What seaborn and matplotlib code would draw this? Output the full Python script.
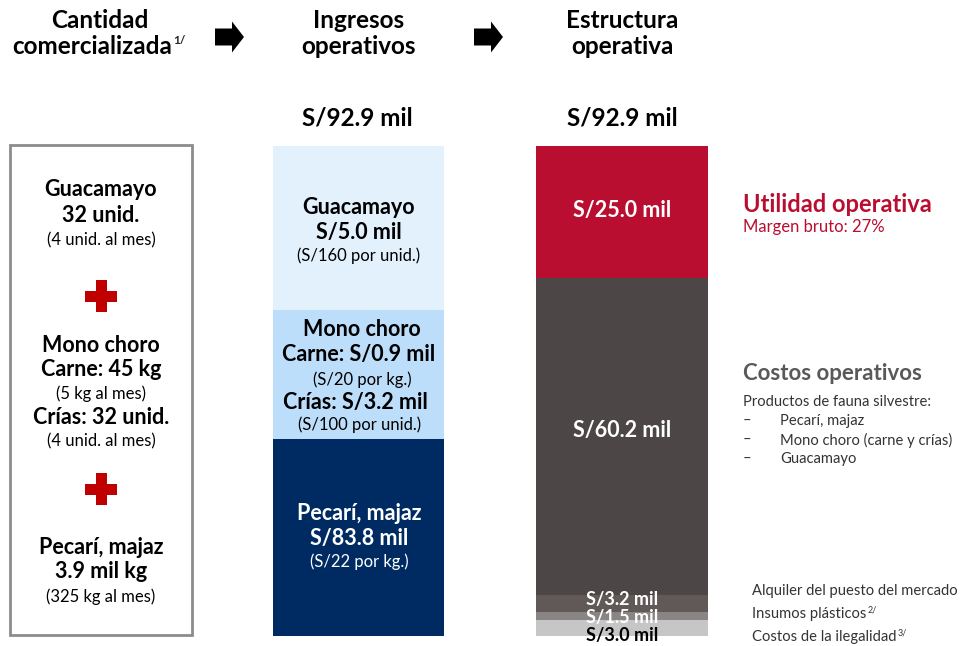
import matplotlib
matplotlib.use("Agg")
import matplotlib.pyplot as plt
import matplotlib.patches as mpatches
import pandas as pd
import seaborn as sns

# --- datos (S/ miles) ---
etapas = ["Ingresos operativos", "Estructura operativa"]
total_mil = 92.9

ingresos_segmentos = ["Pecarí, majaz", "Mono choro", "Guacamayo"]
ingresos_mil = [83.8, 4.1, 5.0]
# alto de cada tramo tal como aparece dibujado (% de la barra, no a escala)
ingresos_alto_pct = [40.2, 26.3, 33.5]

estructura_segmentos = ["Costos de la ilegalidad", "Insumos plásticos",
                        "Alquiler del puesto", "Productos de fauna", "Utilidad operativa"]
estructura_mil = [3.0, 1.5, 3.2, 60.2, 25.0]

colores = {
    "Pecarí, majaz": "#002B62",
    "Mono choro": "#BDDEFA",
    "Guacamayo": "#E3F1FD",
    "Costos de la ilegalidad": "#C6C6C6",
    "Insumos plásticos": "#8A8484",
    "Alquiler del puesto": "#615958",
    "Productos de fauna": "#4C4746",
    "Utilidad operativa": "#B90E30",
}

# tabla acumulada para apilar con seaborn
filas = []
acum = 0
for seg, pct in zip(ingresos_segmentos, ingresos_alto_pct):
    acum += pct / 100 * total_mil
    filas.append({"etapa": etapas[0], "segmento": seg, "acum": acum})
acum = 0
for seg, v in zip(estructura_segmentos, estructura_mil):
    acum += v
    filas.append({"etapa": etapas[1], "segmento": seg, "acum": acum})
df = pd.DataFrame(filas)
orden_hue = list(df.sort_values("acum", ascending=False)["segmento"])

sns.set_theme(style="white")
plt.rcParams["font.family"] = ["Lato", "DejaVu Sans"]

W, H = 960, 646
fig = plt.figure(figsize=(W / 100, H / 100), dpi=100)

# ejes de barras: y=0 en px 636, y=total en px 146
ax = fig.add_axes([0, (H - 636) / H, 1, (636 - 146) / H])
sns.barplot(data=df, x="etapa", y="acum", hue="segmento", hue_order=orden_hue,
            order=etapas, palette=colores, dodge=False, width=0.65,
            saturation=1, errorbar=None, legend=False, linewidth=0, ax=ax)
unidad = 263.5
ax.set_xlim(-358.5 / unidad, 1 + (W - 622) / unidad)
ax.set_ylim(0, total_mil)
ax.axis("off")

# capa de textos en pixeles
ov = fig.add_axes([0, 0, 1, 1], zorder=5)
ov.set_xlim(0, W)
ov.set_ylim(H, 0)
ov.axis("off")
ov.patch.set_alpha(0)


def txt(x, y, s, size=13, bold=True, color="black", ha="center"):
    return ov.text(x, y, s, fontsize=size, fontweight="bold" if bold else "normal",
                   color=color, ha=ha, va="center")


GR = 15.5   # negrita de cuerpo
CH = 12     # texto pequeño

# encabezados
txt(100, 21, "Cantidad", 17.5)
t = txt(92, 47, "comercializada", 17.5)
ov.annotate("1/", xy=(1, 1), xycoords=t, xytext=(1, 0), textcoords="offset points",
            ha="left", va="top", fontsize=8.5, fontweight="bold")
txt(359, 21, "Ingresos", 17.5)
txt(359, 47, "operativos", 17.5)
txt(622, 21, "Estructura", 17.5)
txt(622, 47, "operativa", 17.5)
txt(357, 118, "S/92.9 mil", 17.5)
txt(622, 118, "S/92.9 mil", 17.5)

for x0 in (215, 474):
    ov.add_patch(mpatches.FancyArrow(x0, 37, 29, 0, width=17, head_width=31,
                                     head_length=12, length_includes_head=True,
                                     color="black", lw=0))

# caja de cantidades
ov.add_patch(mpatches.Rectangle((10, 145), 182, 490, fill=False, ec="#8C8C8C", lw=2))
txt(101, 190, "Guacamayo", GR)
txt(101, 215, "32 unid.", GR)
txt(101, 240, "(4 unid. al mes)", CH, bold=False)
txt(101, 346, "Mono choro", GR)
txt(101, 370, "Carne: 45 kg", GR)
txt(101, 394, "(5 kg al mes)", CH, bold=False)
txt(101, 417, "Crías: 32 unid.", GR)
txt(101, 441, "(4 unid. al mes)", CH, bold=False)
txt(101, 548, "Pecarí, majaz", GR)
txt(101, 572, "3.9 mil kg", GR)
txt(101, 597, "(325 kg al mes)", CH, bold=False)
for cy in (296, 489):
    ov.add_patch(mpatches.Rectangle((85, cy - 5.5), 32, 11, color="#C00000", lw=0))
    ov.add_patch(mpatches.Rectangle((95.5, cy - 16), 11, 32, color="#C00000", lw=0))

# textos dentro de ingresos
txt(359, 207, "Guacamayo", GR)
txt(359, 232, "S/5.0 mil", GR)
txt(359, 256, "(S/160 por unid.)", CH, bold=False)
txt(362, 330, "Mono choro", GR)
txt(359, 354, "Carne: S/0.9 mil", GR)
txt(362, 380, "(S/20 por kg.)", CH, bold=False)
txt(355, 402, "Crías: S/3.2 mil", GR)
txt(360, 425, "(S/100 por unid.)", CH, bold=False)
txt(359, 514, "Pecarí, majaz", GR, color="white")
txt(359, 538, "S/83.8 mil", GR, color="white")
txt(359, 562, "(S/22 por kg.)", CH, bold=False, color="white")

# textos dentro de estructura
txt(622, 210, "S/25.0 mil", GR, color="white")
txt(622, 430, "S/60.2 mil", GR, color="white")
# los tres tramos pequeños quedan apretados como en el original
txt(622, 600, "S/3.2 mil", 13, color="white")
txt(622, 618, "S/1.5 mil", 13, color="white")
txt(622, 636, "S/3.0 mil", 13)

# anotaciones a la derecha
txt(743, 204, "Utilidad operativa", 17, color="#B90E30", ha="left")
txt(743, 227, "Margen bruto: 27%", 12, bold=False, color="#B90E30", ha="left")
txt(743, 373, "Costos operativos", 16, color="#595959", ha="left")
txt(743, 402, "Productos de fauna silvestre:", 10.6, bold=False, color="#333333", ha="left")
for y, s in zip((421, 440, 459), ("Pecarí, majaz", "Mono choro (carne y crías)", "Guacamayo")):
    txt(743, y, "–", 10.6, bold=False, color="#333333", ha="left")
    txt(780, y, s, 10.6, bold=False, color="#333333", ha="left")

txt(752, 591, "Alquiler del puesto del mercado", 10.6, bold=False, color="#333333", ha="left")
t2 = txt(752, 614, "Insumos plásticos", 10.6, bold=False, color="#333333", ha="left")
ov.annotate("2/", xy=(1, 1), xycoords=t2, xytext=(1, 1), textcoords="offset points",
            ha="left", va="top", fontsize=6.5, color="#333333")
t3 = txt(752, 637, "Costos de la ilegalidad", 10.6, bold=False, color="#333333", ha="left")
ov.annotate("3/", xy=(1, 1), xycoords=t3, xytext=(1, 1), textcoords="offset points",
            ha="left", va="top", fontsize=6.5, color="#333333")

fig.savefig("out.png", dpi=100)
